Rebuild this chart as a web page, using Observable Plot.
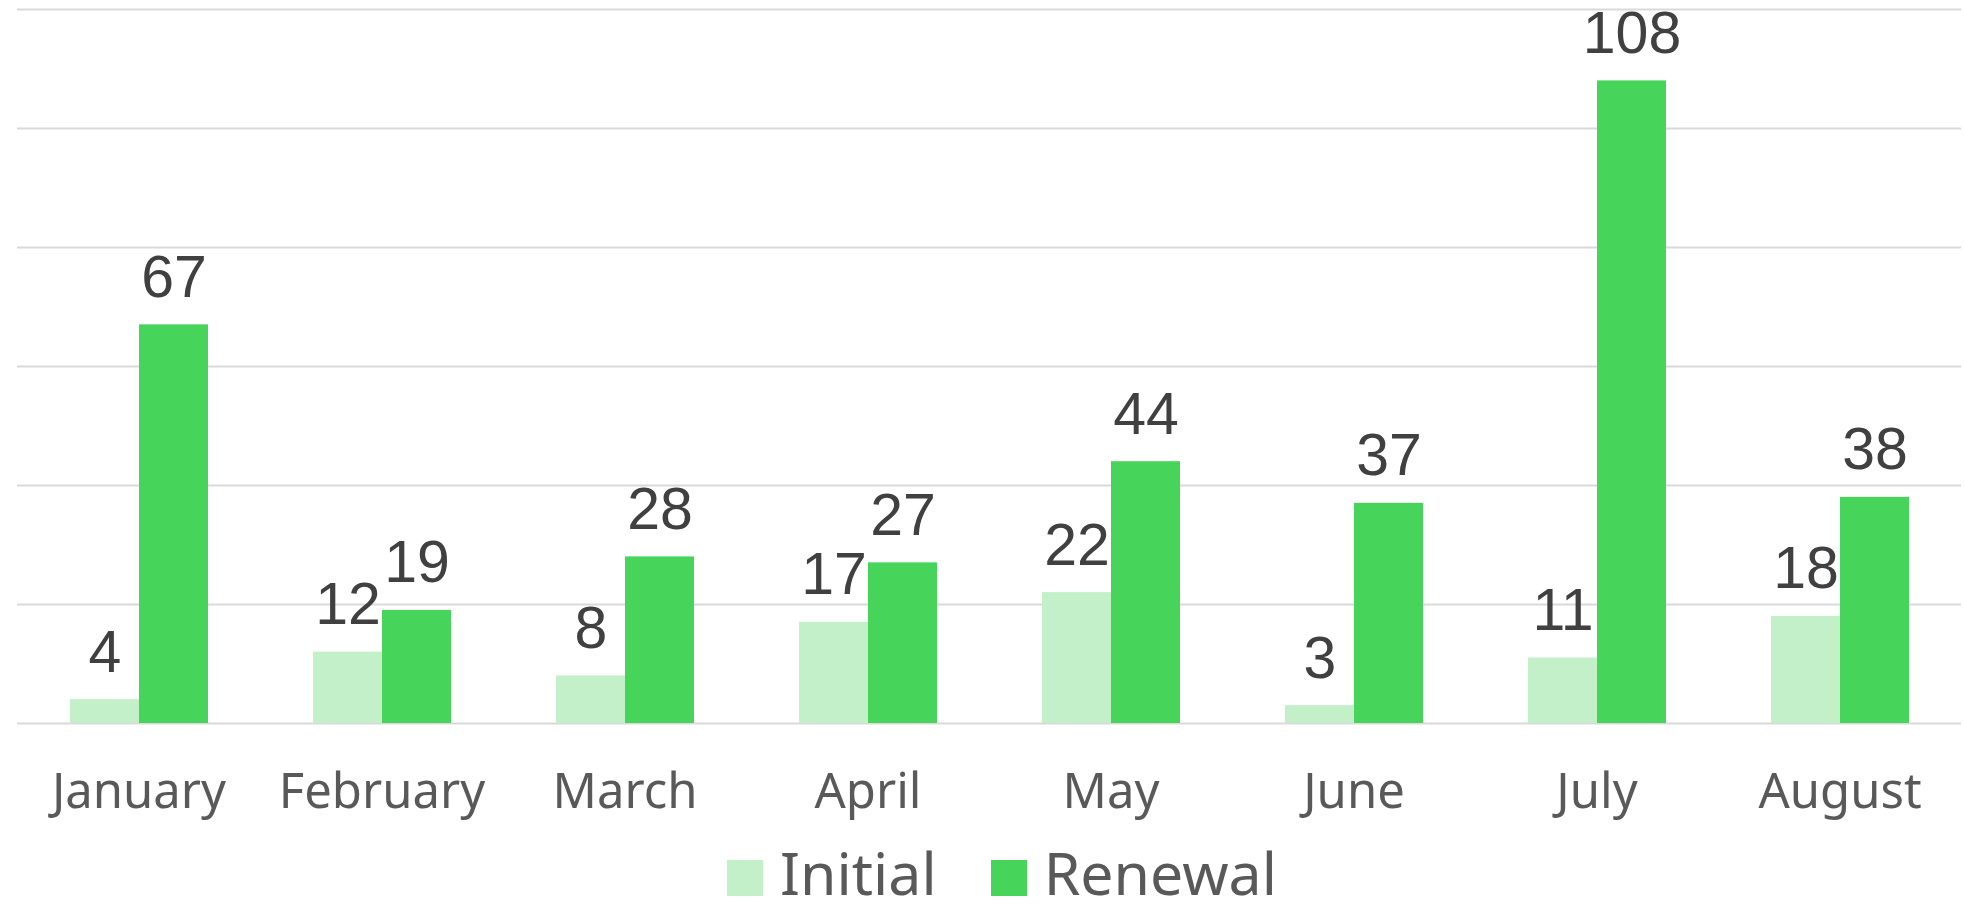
<!DOCTYPE html>
<html>
<head>
<meta charset="utf-8">
<script src="https://cdn.jsdelivr.net/npm/d3@7"></script>
<script src="https://cdn.jsdelivr.net/npm/@observablehq/plot@0.6"></script>
<style>
  html, body { margin: 0; padding: 0; background: #ffffff; }
  #chart { width: 1964px; height: 835px; }
  #legend {
    box-sizing: border-box; width: 1964px; height: 78px; padding-top: 7px; padding-left: 40px;
    display: flex; justify-content: center; align-items: flex-start;
    font-family: "Noto Sans", sans-serif; font-size: 59px; color: #595959;
  }
  .item { display: flex; align-items: center; margin: 0 27px; height: 60px; }
  .swatch { width: 36px; height: 36px; margin-right: 17px; margin-top: 12px; }
  .lab { line-height: 60px; }
</style>
</head>
<body>
<div id="chart"></div>
<div id="legend"></div>
<script>
const months = ["January", "February", "March", "April", "May", "June", "July", "August"];
const series = ["Initial", "Renewal"];
const initial = [4, 12, 8, 17, 22, 3, 11, 18];
const renewal = [67, 19, 28, 27, 44, 37, 108, 38];
const gridTicks = [0, 20, 40, 60, 80, 100, 120];
const colors = ["#c3f0c8", "#47d45a"];

const rows = [];
months.forEach((m, i) => {
  rows.push({month: m, series: "Initial", value: initial[i]});
  rows.push({month: m, series: "Renewal", value: renewal[i]});
});

const chart = Plot.plot({
  width: 1964,
  height: 835,
  marginTop: 9,
  marginBottom: 112,
  marginLeft: 14,
  marginRight: 0,
  style: {fontFamily: "Noto Sans, sans-serif", background: "#ffffff"},
  fx: {domain: months, padding: 0, label: null, axis: null},
  x: {domain: series, paddingInner: 0, paddingOuter: 0.742, axis: null},
  y: {domain: [0, 120], axis: null},
  color: {domain: series, range: colors},
  marks: [
    Plot.ruleY(gridTicks, {stroke: "#d9d9d9", strokeWidth: 2}),
    Plot.barY(rows, {fx: "month", x: "series", y: "value", fill: "series"}),
    Plot.text(rows, {
      fx: "month", x: "series", y: "value", text: d => String(d.value),
      lineAnchor: "bottom", dy: -28, fontSize: 59, fill: "#404040",
      fontFamily: "Liberation Sans, Arial, sans-serif"
    }),
    Plot.axisFx({
      anchor: "bottom", tickSize: 0, tickPadding: 50, fontSize: 49,
      fill: "#595959", label: null, fontFamily: "Noto Sans, sans-serif"
    })
  ]
});
document.getElementById("chart").appendChild(chart);

const legend = document.getElementById("legend");
series.forEach((s, i) => {
  const item = document.createElement("div");
  item.className = "item";
  const sw = document.createElement("div");
  sw.className = "swatch";
  sw.style.background = colors[i];
  const lab = document.createElement("span");
  lab.className = "lab";
  lab.textContent = s;
  item.appendChild(sw);
  item.appendChild(lab);
  legend.appendChild(item);
});
</script>
</body>
</html>
